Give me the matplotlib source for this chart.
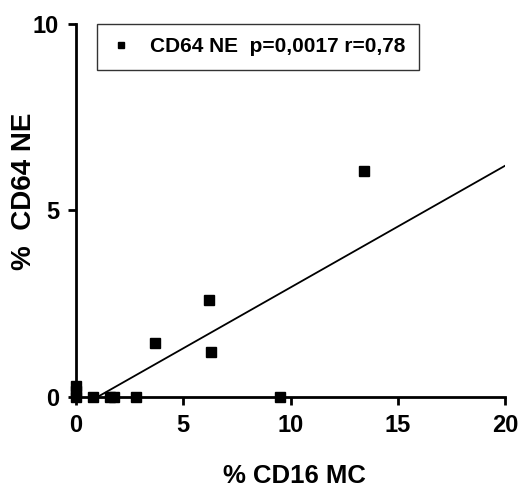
import numpy as np
import matplotlib.pyplot as plt
from matplotlib import font_manager

# pick a narrow bold face if there is one
names = {f.name for f in font_manager.fontManager.ttflist}
FONT = 'Liberation Sans Narrow' if 'Liberation Sans Narrow' in names else 'Liberation Sans'
plt.rcParams['font.family'] = [FONT, 'DejaVu Sans']
plt.rcParams['font.weight'] = 'bold'

# --- data ---
cd16_mc = [0, 0, 0, 0.8, 1.6, 1.8, 2.8, 3.7, 6.2, 6.3, 9.5, 13.4]
cd64_ne = [0, 0.15, 0.3, 0, 0, 0, 0, 1.45, 2.6, 1.2, 0, 6.05]
fit_x = [1.0, 20]
fit_y = [0, 6.2]

fig = plt.figure(figsize=(5.23, 4.86), dpi=100)
ax = fig.add_axes([0.145, 0.183, 0.821, 0.768])

pts, = ax.plot(cd16_mc, cd64_ne, 's', color='black', markersize=6.5, clip_on=False,
               zorder=3, label='CD64 NE  p=0,0017 r=0,78')
ax.plot(fit_x, fit_y, '-', color='black', linewidth=1.3)

ax.set_xlim(0, 20)
ax.set_ylim(0, 10)
ax.set_xticks([0, 5, 10, 15, 20])
ax.set_yticks([0, 5, 10])
for s in ['top', 'right']:
    ax.spines[s].set_visible(False)
for s in ['left', 'bottom']:
    ax.spines[s].set_linewidth(2)
ax.tick_params(direction='out', length=6, width=2, labelsize=17, pad=6)

ax.set_xlabel('% CD16 MC', fontsize=18.5, fontweight='bold')
ax.xaxis.set_label_coords(0.51, -0.178)
ax.set_ylabel('%  CD64 NE', fontsize=20, fontweight='bold')
ax.yaxis.set_label_coords(-0.09, 0.55)

leg = ax.legend(handles=[pts], loc='upper left', bbox_to_anchor=(0.049, 1.0),
                borderaxespad=0, fontsize=15, frameon=True, fancybox=False,
                edgecolor='black', markerscale=0.6, handlelength=1.0,
                handletextpad=0.9, borderpad=0.65)
leg.get_frame().set_linewidth(1.0)

fig.savefig('out.png', dpi=100)
